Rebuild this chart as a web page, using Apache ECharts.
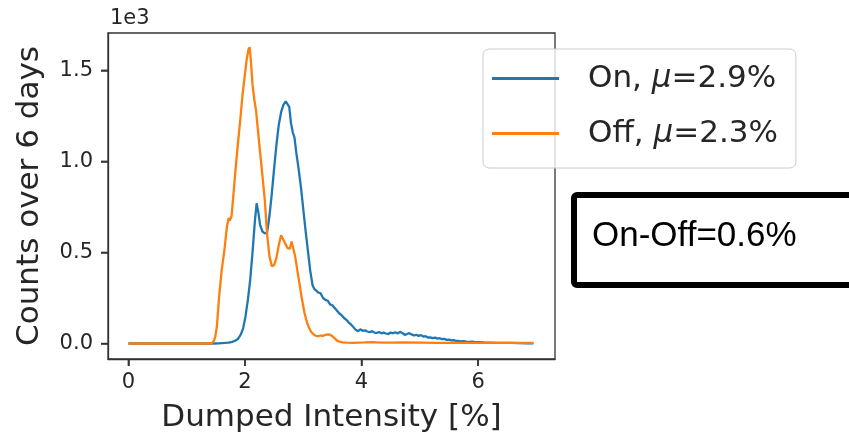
<!DOCTYPE html>
<html>
<head>
<meta charset="utf-8">
<script src="https://cdn.jsdelivr.net/npm/echarts@6/dist/echarts.min.js"></script>
<style>
  html, body { margin: 0; padding: 0; background: #fff; }
  #chart { width: 849px; height: 438px; }
</style>
</head>
<body>
<div id="chart"></div>
<script>
// Histogram of dumped intensity, beam "On" vs "Off", counts over 6 days
const seriesNames = ['On, μ=2.9%', 'Off, μ=2.3%'];

const onPct = [0, 1.45, 1.55, 1.65, 1.72, 1.78, 1.83, 1.88, 1.93, 1.97, 2.01, 2.05, 2.09, 2.13, 2.17, 2.20,
  2.23, 2.26, 2.30, 2.34, 2.38, 2.42, 2.46, 2.50, 2.54, 2.58, 2.62, 2.66, 2.70, 2.73, 2.76, 2.79, 2.82, 2.85,
  2.88, 2.92, 2.96, 3.00, 3.04, 3.08, 3.12, 3.16, 3.19, 3.22, 3.26, 3.30, 3.34, 3.38, 3.42, 3.46, 3.50, 3.54,
  3.58, 3.62, 3.66, 3.70, 3.74, 3.78, 3.82, 3.86, 3.90, 3.94, 3.98, 4.02, 4.06, 4.10, 4.14, 4.18, 4.22, 4.26,
  4.30, 4.34, 4.38, 4.42, 4.46, 4.50, 4.54, 4.58, 4.62, 4.66, 4.70, 4.74, 4.78, 4.82, 4.86, 4.90, 4.94, 4.98,
  5.02, 5.06, 5.10, 5.14, 5.18, 5.22, 5.26, 5.30, 5.34, 5.38, 5.42, 5.46, 5.50, 5.54, 5.58, 5.62, 5.66, 5.70,
  5.75, 5.80, 5.85, 5.90, 5.95, 6.00, 6.10, 6.20, 6.30, 6.40, 6.55, 6.70, 6.85, 6.95];
const onCounts = [0, 0, 1, 3, 5, 9, 15, 25, 50, 85, 150, 240, 350, 500, 670, 770,
  720, 650, 615, 605, 610, 700, 820, 960, 1090, 1200, 1270, 1310, 1330, 1335, 1300, 1210, 1160, 1130,
  1050, 960, 860, 740, 620, 510, 400, 320, 300, 295, 280, 275, 250, 240, 235, 215, 210, 195,
  180, 165, 155, 140, 130, 115, 105, 90, 75, 68, 78, 70, 72, 66, 62, 68, 60, 58,
  63, 56, 60, 55, 52, 60, 56, 62, 55, 64, 58, 48, 52, 57, 50, 44, 48, 42,
  46, 38, 40, 33, 34, 30, 33, 27, 29, 24, 26, 20, 22, 17, 19, 15, 14, 12,
  13, 10, 9, 10, 7, 8, 6, 5, 4, 3, 3, 2, 1, 1];

const offPct = [0, 1.42, 1.46, 1.49, 1.52, 1.56, 1.60, 1.65, 1.69, 1.72, 1.74, 1.77, 1.80, 1.84, 1.88, 1.92,
  1.96, 2.00, 2.03, 2.06, 2.08, 2.10, 2.13, 2.16, 2.19, 2.22, 2.26, 2.30, 2.34, 2.38, 2.42, 2.46, 2.50,
  2.54, 2.58, 2.62, 2.65, 2.69, 2.73, 2.77, 2.80, 2.83, 2.86, 2.90, 2.94, 2.98, 3.02, 3.06, 3.10, 3.14,
  3.18, 3.22, 3.26, 3.30, 3.34, 3.38, 3.42, 3.46, 3.50, 3.54, 3.58, 3.62, 3.68, 3.75, 3.85, 3.95, 4.05,
  4.20, 4.35, 4.50, 4.70, 5.00, 5.30, 5.60, 6.00, 6.40, 6.95];
const offCounts = [0, 0, 10, 35, 100, 270, 400, 520, 640, 690, 675, 700, 810, 960, 1100, 1230,
  1370, 1480, 1560, 1615, 1627, 1560, 1420, 1340, 1280, 1180, 1050, 920, 790, 600, 480, 425, 430,
  470, 540, 595, 590, 550, 525, 520, 560, 555, 480, 400, 320, 240, 170, 120, 85, 62,
  50, 42, 40, 44, 42, 48, 50, 49, 40, 28, 16, 10, 6, 5, 4, 5, 6,
  8, 5, 5, 6, 5, 4, 4, 4, 3, 3];

const xTicks = [0, 2, 4, 6];
const yTicks = [0, 500, 1000, 1500];
const diffNote = 'On-Off=0.6%';

// axis ranges (matplotlib-style 5% margins around the data)
const xMin = -0.35, xMax = 7.32;
const yMin = -85, yMax = 1705;

const pairs = (xs, ys) => xs.map((x, i) => [x, ys[i]]);

const ink = '#262626';
const frame = '#333333';
const sans = "'DejaVu Sans', sans-serif";
const tickLen = 7;
const tickLine = { color: frame, width: 1.5 };

const chart = echarts.init(document.getElementById('chart'), null, { renderer: 'canvas' });

chart.setOption({
  backgroundColor: '#ffffff',
  animation: false,
  grid: {
    left: 108, top: 33, width: 447, height: 327,
    show: true, borderColor: frame, borderWidth: 1.3, backgroundColor: 'transparent'
  },
  xAxis: {
    type: 'value', min: xMin, max: xMax,
    name: 'Dumped Intensity [%]', nameLocation: 'middle', nameGap: 43,
    nameTextStyle: { fontFamily: sans, fontSize: 31, color: ink },
    axisLine: { show: true, onZero: false, lineStyle: { color: frame, width: 1.3 } },
    splitLine: { show: false },
    axisTick: { show: true, inside: false, length: tickLen, customValues: xTicks, lineStyle: tickLine },
    axisLabel: { customValues: xTicks, margin: 13, fontFamily: sans, fontSize: 21, color: ink }
  },
  yAxis: {
    type: 'value', min: yMin, max: yMax,
    name: 'Counts over 6 days', nameLocation: 'middle', nameGap: 63,
    nameTextStyle: { fontFamily: sans, fontSize: 31, color: ink },
    axisLine: { show: true, onZero: false, lineStyle: { color: frame, width: 1.3 } },
    splitLine: { show: false },
    axisTick: { show: true, inside: false, length: tickLen, customValues: yTicks, lineStyle: tickLine },
    axisLabel: {
      customValues: yTicks, margin: 15, fontFamily: sans, fontSize: 21, color: ink,
      formatter: v => (v / 1000).toFixed(1)
    }
  },
  legend: {
    orient: 'vertical', left: 483, top: 49,
    data: seriesNames,
    selectedMode: false,
    icon: 'rect', itemWidth: 67, itemHeight: 3, itemGap: 24,
    padding: [14, 18, 19, 9],
    backgroundColor: 'rgba(255,255,255,0.8)',
    borderColor: '#cccccc', borderWidth: 1, borderRadius: 6,
    formatter: name => name.replace('μ', '{mu|μ}'),
    textStyle: {
      fontFamily: sans, fontSize: 31, color: ink, padding: [0, 0, 0, 24],
      rich: { mu: { fontFamily: sans, fontSize: 31, fontStyle: 'italic', color: ink } }
    }
  },
  graphic: [
    {
      id: 'exponent', type: 'text', left: 110, top: 8,
      style: { text: '1e3', fontFamily: sans, fontSize: 21, fill: ink }
    },
    {
      id: 'noteBox', type: 'rect', z: 10,
      shape: { x: 574, y: 195, width: 320, height: 90, r: 3 },
      style: { fill: '#ffffff', stroke: '#000000', lineWidth: 6 }
    },
    {
      id: 'noteText', type: 'text', z: 11, x: 592, y: 236,
      style: {
        text: diffNote, fontFamily: "'Liberation Sans', Arial, sans-serif", fontSize: 35,
        fill: '#000000', textVerticalAlign: 'middle', verticalAlign: 'middle'
      }
    }
  ],
  series: [
    {
      name: seriesNames[0], type: 'line', data: pairs(onPct, onCounts),
      showSymbol: false, symbol: 'none', smooth: false,
      lineStyle: { color: '#1f77b4', width: 2.3 }, itemStyle: { color: '#1f77b4' }, z: 2
    },
    {
      name: seriesNames[1], type: 'line', data: pairs(offPct, offCounts),
      showSymbol: false, symbol: 'none', smooth: false,
      lineStyle: { color: '#ff7f0e', width: 2.3 }, itemStyle: { color: '#ff7f0e' }, z: 3
    }
  ]
});

// outward tick marks on the left and bottom spines, placed through the axis scales
const axisBottom = chart.convertToPixel({ yAxisIndex: 0 }, yMin);
const axisLeft = chart.convertToPixel({ xAxisIndex: 0 }, xMin);
const tickStyle = { stroke: tickLine.color, lineWidth: tickLine.width };
const tickMarks = [];
xTicks.forEach((v, i) => {
  const px = chart.convertToPixel({ xAxisIndex: 0 }, v);
  tickMarks.push({
    id: 'xtick' + i, type: 'line', z: 20,
    shape: { x1: px, y1: axisBottom, x2: px, y2: axisBottom + tickLen }, style: tickStyle
  });
});
yTicks.forEach((v, i) => {
  const py = chart.convertToPixel({ yAxisIndex: 0 }, v);
  tickMarks.push({
    id: 'ytick' + i, type: 'line', z: 20,
    shape: { x1: axisLeft - tickLen, y1: py, x2: axisLeft, y2: py }, style: tickStyle
  });
});
if (tickMarks.every(t => Object.values(t.shape).every(Number.isFinite))) {
  chart.setOption({ graphic: tickMarks });
}
</script>
</body>
</html>
